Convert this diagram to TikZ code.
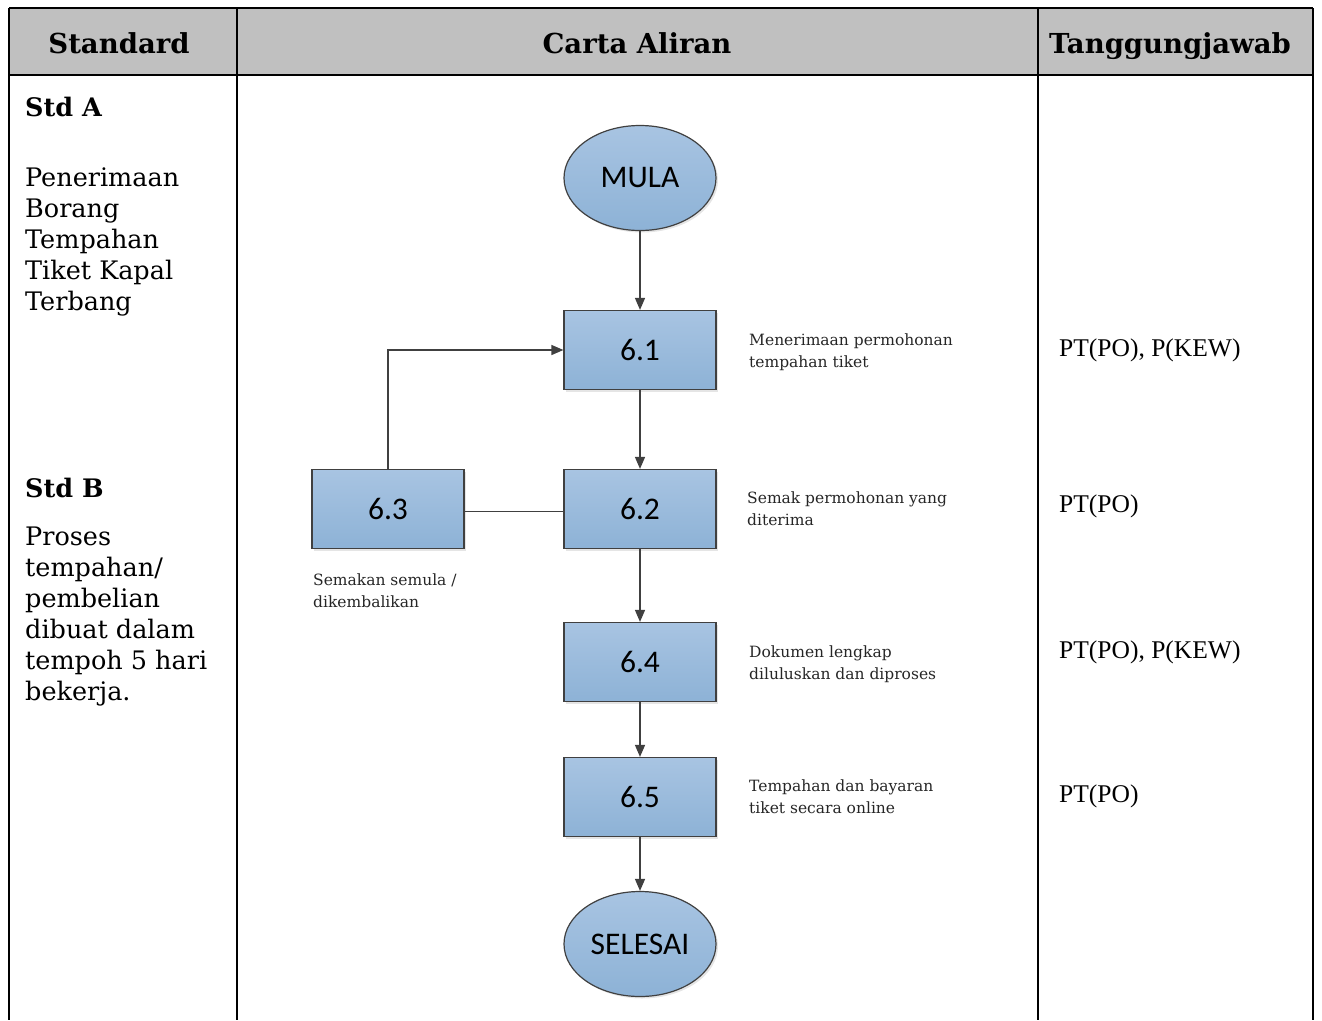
\documentclass[tikz,border=0pt]{standalone}
\usepackage{fontspec}
\setmainfont{DejaVu Serif}
\newfontfamily\timesf{Liberation Serif}
\newfontfamily\calif{Carlito}
\usetikzlibrary{shapes.geometric,arrows.meta,shadows}
\definecolor{hdrgrey}{RGB}{192,192,192}
\definecolor{boxtop}{RGB}{168,196,226}
\definecolor{boxbot}{RGB}{141,178,214}
\definecolor{lineclr}{RGB}{64,64,64}
\tikzset{
  tline/.style={line width=2.5pt,black},
  hdr/.style={font=\fontsize{27.5}{32}\selectfont\bfseries,anchor=base,inner sep=0},
  stdtxt/.style={font=\fontsize{25.5}{31}\selectfont,anchor=base west,align=left,inner sep=0},
  lbl/.style={font=\fontsize{15.5}{22}\selectfont,anchor=base west,align=left,inner sep=0,text=black!85},
  resp/.style={font=\timesf\fontsize{25.5}{30}\selectfont,anchor=base west,inner sep=0},
  proc/.style={rectangle,draw=lineclr,line width=1.2pt,minimum width=152pt,minimum height=79pt,inner sep=0,
    top color=boxtop,bottom color=boxbot,font=\calif\fontsize{31.5}{32}\selectfont,
    drop shadow={shadow xshift=2pt,shadow yshift=-2pt,opacity=0.25,fill=black!40}},
  term/.style={ellipse,draw=lineclr,line width=1.2pt,minimum width=152pt,minimum height=105pt,inner sep=0,
    top color=boxtop,bottom color=boxbot,font=\calif\fontsize{31.5}{32}\selectfont,
    drop shadow={shadow xshift=2pt,shadow yshift=-2pt,opacity=0.25,fill=black!40}},
  flow/.style={line width=1.4pt,lineclr,-{Triangle[length=12pt,width=10pt]}},
  plain/.style={line width=1.4pt,lineclr}
}
\begin{document}
\begin{tikzpicture}[x=1pt,y=-1pt]
\useasboundingbox (0,0) rectangle (1322,1020);
% header
\fill[hdrgrey] (9,8) rectangle (1313,75);
\draw[tline] (9,8) -- (1313,8);
\draw[tline] (9,75) -- (1313,75);
\draw[tline] (9,8) -- (9,1020);
\draw[tline] (237,8) -- (237,1020);
\draw[tline] (1038,8) -- (1038,1020);
\draw[tline] (1313,8) -- (1313,1020);
\node[hdr] (hstd) at (119,53) {Standard};
\node[hdr] (hcarta) at (637,53) {Carta Aliran};
\node[hdr] (htgj) at (1170,53) {Tanggungjawab};
% left column
\node[stdtxt] (stda) at (25,116) {\bfseries Std A};
\node[stdtxt] (stdatxt) at (25,310) {Penerimaan\\Borang\\Tempahan\\Tiket Kapal\\Terbang};
\node[stdtxt] (stdb) at (25,497) {\bfseries Std B};
\node[stdtxt] (stdbtxt) at (25,700) {Proses\\tempahan/\\pembelian\\dibuat dalam\\tempoh 5 hari\\bekerja.};
% right column
\node[resp] (r1) at (1059,356) {PT(PO), P(KEW)};
\node[resp] (r2) at (1059,512) {PT(PO)};
\node[resp] (r3) at (1059,658) {PT(PO), P(KEW)};
\node[resp] (r4) at (1059,802) {PT(PO)};
% flowchart
\node[term] (mula) at (640,178) {MULA};
\node[proc] (p61) at (640,350) {6.1};
\node[proc] (p62) at (640,509) {6.2};
\node[proc] (p63) at (388,509) {6.3};
\node[proc] (p64) at (640,662) {6.4};
\node[proc] (p65) at (640,797) {6.5};
\node[term] (selesai) at (640,944) {SELESAI};
\draw[flow] (mula) -- (p61);
\draw[flow] (p61) -- (p62);
\draw[flow] (p62) -- (p64);
\draw[flow] (p64) -- (p65);
\draw[flow] (p65) -- (selesai);
\draw[plain] ([yshift=-2.5pt]p62.west) -- ([yshift=-2.5pt]p63.east);
\draw[flow] (p63.north) |- (p61.west);
% labels
\node[lbl] (l61) at (749,367) {Menerimaan permohonan\\tempahan tiket};
\node[lbl] (l62) at (747,525) {Semak permohonan yang\\diterima};
\node[lbl] (l63) at (313,607) {Semakan semula /\\dikembalikan};
\node[lbl] (l64) at (749,679) {Dokumen lengkap\\diluluskan dan diproses};
\node[lbl] (l65) at (749,813) {Tempahan dan bayaran\\tiket secara online};
\end{tikzpicture}
\end{document}
